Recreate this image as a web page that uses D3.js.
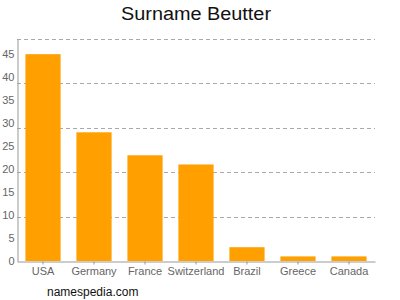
<html>
<head>
<script src="https://d3js.org/d3.v7.min.js"></script>
<style>
  body { margin: 0; background: #fff; }
  text { font-family: "Liberation Sans", Arial, sans-serif; }
</style>
</head>
<body>
<div id="chart"></div>
<script>
  // data
  var countries = ["USA", "Germany", "France", "Switzerland", "Brazil", "Greece", "Canada"];
  var counts = [45, 28, 23, 21, 3, 1, 1];
  var yTicks = [0, 5, 10, 15, 20, 25, 30, 35, 40, 45];
  var yMax = 48.3;

  var width = 400, height = 300;
  var plotLeft = 17, plotRight = 375, plotTop = 39, plotBottom = 261;

  var svg = d3.select("#chart").append("svg")
    .attr("width", width)
    .attr("height", height);

  var x = d3.scaleBand()
    .domain(countries)
    .range([plotLeft, plotRight])
    .paddingInner(0.31)
    .paddingOuter(0.165);

  var y = d3.scaleLinear()
    .domain([0, yMax])
    .range([plotBottom, plotTop]);

  // dashed grid, five equal steps up to the top of the axis
  var grid = d3.range(1, 6).map(function(i) { return yMax * i / 5; });
  svg.selectAll("line.grid")
    .data(grid)
    .enter()
    .append("line")
    .attr("class", "grid")
    .attr("x1", plotLeft)
    .attr("x2", plotRight)
    .attr("y1", function(d) { return Math.round(y(d)) + 0.5; })
    .attr("y2", function(d) { return Math.round(y(d)) + 0.5; })
    .attr("stroke", "#aaa")
    .attr("stroke-dasharray", "4,3");

  // bars
  svg.selectAll("rect")
    .data(counts)
    .enter()
    .append("rect")
    .attr("x", function(d, i) { return x(countries[i]); })
    .attr("y", function(d) { return y(d); })
    .attr("width", x.bandwidth())
    .attr("height", function(d) { return plotBottom - y(d); })
    .attr("fill", "#ffa000");

  // y axis
  var yAxis = svg.append("g")
    .attr("transform", "translate(" + (plotLeft + 0.5) + ",0)")
    .call(d3.axisLeft(y).tickValues(yTicks).tickSize(0).tickPadding(3));
  yAxis.select(".domain").attr("stroke", "#999");
  yAxis.selectAll("text").attr("fill", "#666").style("font-size", "11px");

  // x axis
  var xAxis = svg.append("g")
    .attr("transform", "translate(0," + (plotBottom + 0.5) + ")")
    .call(d3.axisBottom(x).tickSizeInner(3).tickSizeOuter(0).tickPadding(3));
  xAxis.select(".domain").attr("stroke", "#999");
  xAxis.selectAll(".tick line").attr("stroke", "#999");
  xAxis.selectAll("text").attr("fill", "#666").style("font-size", "11px");

  // title and footer
  svg.append("text")
    .attr("x", 121)
    .attr("y", 20)
    .attr("textLength", 150)
    .attr("lengthAdjust", "spacingAndGlyphs")
    .style("font-size", "18px")
    .attr("fill", "#111")
    .text("Surname Beutter");

  svg.append("text")
    .attr("x", 47)
    .attr("y", 296)
    .style("font-size", "12px")
    .attr("fill", "#111")
    .text("namespedia.com");
</script>
</body>
</html>
